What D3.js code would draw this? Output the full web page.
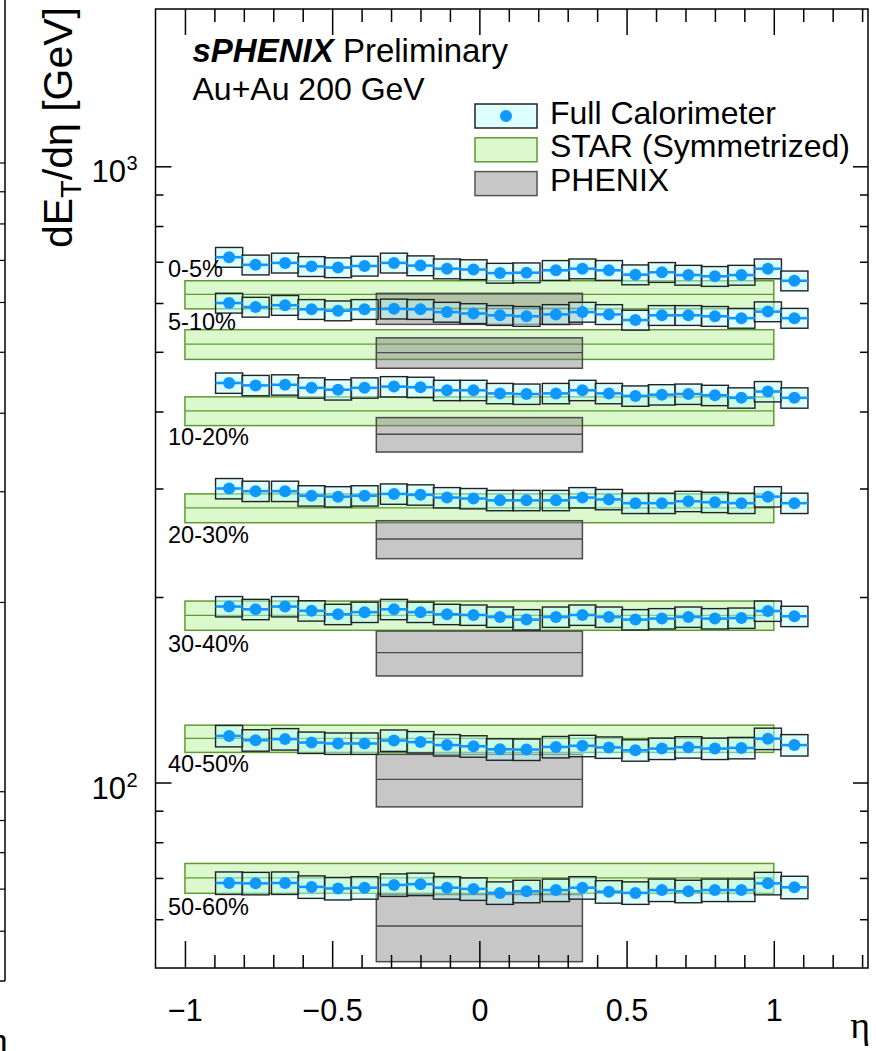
<!DOCTYPE html>
<html>
<head>
<meta charset="utf-8">
<script src="https://cdn.jsdelivr.net/npm/d3@7"></script>
<style>
  body { margin: 0; background: #fff; }
  svg { display: block; font-family: "Liberation Sans", Arial, Helvetica, sans-serif; }
  .axis line { stroke: #000; stroke-width: 1.5; }
  .axis path { display: none; }
</style>
</head>
<body>
<script>
// ---- data ----
const centralities = ["0-5%", "5-10%", "10-20%", "20-30%", "30-40%", "40-50%", "50-60%"];

// eta bin centres of the full calorimeter points
const eta = [-0.85, -0.76, -0.66, -0.57, -0.48, -0.39, -0.29, -0.20, -0.11, -0.02, 0.07,
             0.16, 0.26, 0.35, 0.44, 0.53, 0.62, 0.71, 0.80, 0.89, 0.98, 1.07];

// Full Calorimeter dET/deta, one array per centrality
const fc0_5   = [712, 692, 697, 688, 685, 689, 697, 690, 682, 680, 671, 672, 678, 682, 678, 667, 673, 666, 663, 666, 682, 652];
const fc5_10  = [600, 591, 595, 586, 583, 586, 587, 586, 580, 577, 573, 571, 575, 580, 575, 563, 573, 573, 571, 567, 581, 567];
const fc10_20 = [445, 441, 442, 437, 434, 437, 439, 438, 433, 433, 428, 427, 428, 433, 428, 424, 426, 427, 425, 421, 431, 421];
const fc20_30 = [300, 297, 297, 292, 291, 292, 294, 293, 290, 289, 287, 287, 287, 290, 288, 284, 284, 286, 285, 284, 291, 284];
const fc30_40 = [193, 191, 193, 190, 187.5, 189, 191, 189, 187.5, 187, 185.6, 183.8, 185.6, 187, 185.6, 183.8, 184.5, 185.6, 184.5, 184.9, 189.8, 186.1];
const fc40_50 = [119.0, 117.1, 117.6, 116.1, 115.7, 115.7, 117.0, 116.3, 115.0, 114.5, 113.2, 113.1, 114.2, 114.7, 114.0, 112.8, 113.5, 114.1, 113.5, 113.8, 117.8, 115.0];
const fc50_60 = [68.7, 68.6, 68.7, 67.7, 67.3, 67.5, 68.2, 68.4, 67.5, 67.2, 66.2, 66.6, 66.9, 67.5, 66.5, 66.2, 66.9, 66.6, 66.9, 66.9, 68.6, 67.6];
const fullCal = [fc0_5, fc5_10, fc10_20, fc20_30, fc30_40, fc40_50, fc50_60];
const fcSysFrac = [0.037, 0.037, 0.038, 0.038, 0.038, 0.040, 0.042];
const binHalf = 0.046;

// STAR (symmetrized) and PHENIX bands
const starEta = [-1, 1];
const starVal = [619.5, 514.5, 401, 279, 186.8, 117.9, 70.0];
const starErr = [32.5, 28.5, 21.5, 15, 10.2, 6.0, 3.9];
const phenixEta = [-0.35, 0.35];
const phenixVal = [588, 498.5, 367.4, 248.4, 162.5, 101.2, 58.5];
const phenixErr = [34, 28.3, 23.6, 17.6, 13.6, 9.9, 7.3];

// where the centrality labels sit (in dET/deta units)
const labelAt = [661, 542, 353, 245, 163, 104, 61];

// axis ticks
const xMajor = [-1, -0.5, 0, 0.5, 1];
const xMinor = [-0.9, -0.8, -0.7, -0.6, -0.4, -0.3, -0.2, -0.1, 0.1, 0.2, 0.3, 0.4, 0.6, 0.7, 0.8, 0.9, 1.1, 1.2, 1.3];
const yMajor = [100, 1000];
const yMinor = [60, 70, 80, 90, 200, 300, 400, 500, 600, 700, 800, 900];
const yLabels = ["2", "3"];

// ---- layout ----
const W = 876, H = 1051;
const frame = {left: 155.5, right: 868, top: 9, bottom: 968};

const svg = d3.select("body").append("svg")
  .attr("width", W)
  .attr("height", H);

const xScale = d3.scaleLinear().domain([-1.1, 1.32]).range([frame.left, frame.right]);
const yScale = d3.scaleLog().domain([50, 1800]).range([frame.bottom, frame.top]);

// ---- neighbouring panel edge (cut off on the left) ----
const nbY = d3.scaleLog().domain([50, 1000]).range([981, 163]);
svg.append("line").attr("x1", 5).attr("x2", 5).attr("y1", 0).attr("y2", 981)
  .attr("stroke", "#000").attr("stroke-width", 1.5);
svg.append("line").attr("x1", 0).attr("x2", 5).attr("y1", 981).attr("y2", 981)
  .attr("stroke", "#000").attr("stroke-width", 1.5);
svg.append("g").selectAll("line")
  .data(nbY.ticks().filter(d => d > 50))
  .enter().append("line")
  .attr("x1", 0).attr("x2", 5)
  .attr("y1", d => nbY(d)).attr("y2", d => nbY(d))
  .attr("stroke", "#000").attr("stroke-width", 1.2);
svg.append("text")
  .attr("x", 8).attr("y", 1053)
  .attr("text-anchor", "end")
  .style("font-family", "'Liberation Serif', 'Times New Roman', serif")
  .style("font-size", "38px")
  .text("η");

// ---- bands ----
const plot = svg.append("g");

const starG = plot.append("g");
centralities.forEach((c, i) => {
  starG.append("rect")
    .attr("x", xScale(starEta[0]))
    .attr("width", xScale(starEta[1]) - xScale(starEta[0]))
    .attr("y", yScale(starVal[i] + starErr[i]))
    .attr("height", yScale(starVal[i] - starErr[i]) - yScale(starVal[i] + starErr[i]))
    .attr("fill", "#dbf9cc")
    .attr("stroke", "#5f9a35")
    .attr("stroke-width", 1.5);
  starG.append("line")
    .attr("x1", xScale(starEta[0])).attr("x2", xScale(starEta[1]))
    .attr("y1", yScale(starVal[i])).attr("y2", yScale(starVal[i]))
    .attr("stroke", "#5f9a35").attr("stroke-width", 1.3);
});

const phenixG = plot.append("g");
centralities.forEach((c, i) => {
  phenixG.append("rect")
    .attr("x", xScale(phenixEta[0]))
    .attr("width", xScale(phenixEta[1]) - xScale(phenixEta[0]))
    .attr("y", yScale(phenixVal[i] + phenixErr[i]))
    .attr("height", yScale(phenixVal[i] - phenixErr[i]) - yScale(phenixVal[i] + phenixErr[i]))
    .attr("fill", "rgba(122,122,122,0.42)")
    .attr("stroke", "#4a4a4a")
    .attr("stroke-width", 1.5);
  phenixG.append("line")
    .attr("x1", xScale(phenixEta[0])).attr("x2", xScale(phenixEta[1]))
    .attr("y1", yScale(phenixVal[i])).attr("y2", yScale(phenixVal[i]))
    .attr("stroke", "#4a4a4a").attr("stroke-width", 1.3);
});

// ---- full calorimeter ----
fullCal.forEach((series, i) => {
  const pts = series.map((v, j) => ({eta: eta[j], v: v, s: v * fcSysFrac[i]}));
  const g = plot.append("g");

  g.selectAll("rect")
    .data(pts)
    .enter().append("rect")
    .attr("x", d => xScale(d.eta - binHalf))
    .attr("width", d => xScale(d.eta + binHalf) - xScale(d.eta - binHalf))
    .attr("y", d => yScale(d.v + d.s))
    .attr("height", d => yScale(d.v - d.s) - yScale(d.v + d.s))
    .attr("fill", "rgba(180,255,255,0.45)")
    .attr("stroke", "#222")
    .attr("stroke-width", 1.4);

  g.selectAll("line")
    .data(pts)
    .enter().append("line")
    .attr("x1", d => xScale(d.eta - binHalf))
    .attr("x2", d => xScale(d.eta + binHalf))
    .attr("y1", d => yScale(d.v))
    .attr("y2", d => yScale(d.v))
    .attr("stroke", "#0f98ff")
    .attr("stroke-width", 2.6);

  g.selectAll("circle")
    .data(pts)
    .enter().append("circle")
    .attr("cx", d => xScale(d.eta))
    .attr("cy", d => yScale(d.v))
    .attr("r", 6)
    .attr("fill", "#0f98ff");
});

// centrality labels
svg.append("g").selectAll("text")
  .data(centralities)
  .enter().append("text")
  .attr("x", 168)
  .attr("y", (d, i) => yScale(labelAt[i]))
  .style("font-size", "23.5px")
  .text(d => d);

// ---- frame and axes ----
svg.append("rect")
  .attr("x", frame.left).attr("y", frame.top)
  .attr("width", frame.right - frame.left)
  .attr("height", frame.bottom - frame.top)
  .attr("fill", "none")
  .attr("stroke", "#000")
  .attr("stroke-width", 1.5);

const xAxis = svg.append("g")
  .attr("class", "axis x")
  .attr("transform", `translate(0, ${frame.bottom})`)
  .call(d3.axisBottom(xScale).tickValues(xMajor).tickSizeInner(-27).tickSizeOuter(0)
    .tickPadding(31).tickFormat(d3.format("")));
xAxis.selectAll("text")
  .attr("fill", "#000")
  .style("font-size", "30.5px")
  .style("font-family", "'Liberation Sans', Arial, sans-serif");

svg.append("g")
  .attr("class", "axis")
  .attr("transform", `translate(0, ${frame.bottom})`)
  .call(d3.axisBottom(xScale).tickValues(xMinor).tickSizeInner(-13).tickSizeOuter(0).tickFormat(""));

svg.append("g")
  .attr("class", "axis")
  .attr("transform", `translate(0, ${frame.top})`)
  .call(d3.axisTop(xScale).tickValues(xMajor).tickSizeInner(-26).tickSizeOuter(0).tickFormat(""));
svg.append("g")
  .attr("class", "axis")
  .attr("transform", `translate(0, ${frame.top})`)
  .call(d3.axisTop(xScale).tickValues(xMinor).tickSizeInner(-13).tickSizeOuter(0).tickFormat(""));

svg.append("g")
  .attr("class", "axis")
  .attr("transform", `translate(${frame.left}, 0)`)
  .call(d3.axisLeft(yScale).tickValues(yMajor).tickSizeInner(-16).tickSizeOuter(0).tickFormat(""));
svg.append("g")
  .attr("class", "axis")
  .attr("transform", `translate(${frame.left}, 0)`)
  .call(d3.axisLeft(yScale).tickValues(yMinor).tickSizeInner(-8).tickSizeOuter(0).tickFormat(""));

svg.append("g")
  .attr("class", "axis")
  .attr("transform", `translate(${frame.right}, 0)`)
  .call(d3.axisRight(yScale).tickValues(yMajor).tickSizeInner(-15).tickSizeOuter(0).tickFormat(""));
svg.append("g")
  .attr("class", "axis")
  .attr("transform", `translate(${frame.right}, 0)`)
  .call(d3.axisRight(yScale).tickValues(yMinor).tickSizeInner(-8).tickSizeOuter(0).tickFormat(""));

// y labels 10^2, 10^3
svg.append("g").selectAll("text")
  .data(yMajor)
  .enter().append("text")
  .attr("x", 126)
  .attr("y", d => yScale(d) + 16)
  .attr("text-anchor", "end")
  .style("font-size", "31px")
  .text("10");
svg.append("g").selectAll("text")
  .data(yMajor)
  .enter().append("text")
  .attr("x", 126.5)
  .attr("y", (d, i) => yScale(d) + 4)
  .style("font-size", "20px")
  .text((d, i) => yLabels[i]);

// axis titles
const yTitle = svg.append("text")
  .attr("transform", "translate(72, 7) rotate(-90)")
  .attr("text-anchor", "end")
  .style("font-size", "41px");
yTitle.append("tspan").text("dE");
yTitle.append("tspan").attr("dy", 9).style("font-size", "29px").text("T");
yTitle.append("tspan").attr("dy", -9).text("/dη [GeV]");

svg.append("text")
  .attr("x", 870).attr("y", 1038)
  .attr("text-anchor", "end")
  .style("font-family", "'Liberation Serif', 'Times New Roman', serif")
  .style("font-size", "38px")
  .text("η");

// header text
const head = svg.append("text").attr("x", 192.5).attr("y", 61.5).style("font-size", "33px");
head.append("tspan").style("font-weight", "bold").style("font-style", "italic").text("sPHENIX");
head.append("tspan").text(" Preliminary");
svg.append("text").attr("x", 192.5).attr("y", 99.5).style("font-size", "32px").text("Au+Au 200 GeV");

// ---- legend ----
const legendItems = ["Full Calorimeter", "STAR (Symmetrized)", "PHENIX"];
const legendFill = ["rgba(180,255,255,0.45)", "#dbf9cc", "#c8c8c8"];
const legendStroke = ["#222", "#5f9a35", "#555"];
const legend = svg.append("g").attr("transform", "translate(475, 104)");
legendItems.forEach((name, i) => {
  const row = legend.append("g").attr("transform", `translate(0, ${i * 33.8})`);
  row.append("rect")
    .attr("width", 62).attr("height", 24)
    .attr("fill", legendFill[i])
    .attr("stroke", legendStroke[i])
    .attr("stroke-width", 1.5);
  if (i === 0) {
    row.append("circle").attr("cx", 31).attr("cy", 12).attr("r", 6).attr("fill", "#0f98ff");
  }
  row.append("text")
    .attr("x", 75).attr("y", 19.5)
    .style("font-size", "32px")
    .text(name);
});
</script>
</body>
</html>
